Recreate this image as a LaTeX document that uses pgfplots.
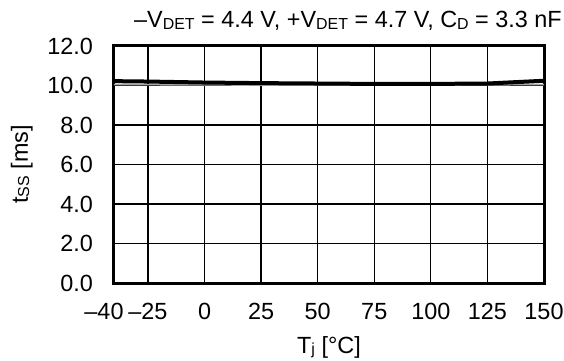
\documentclass[border=0pt]{standalone}
\usepackage{pgfplots}
\pgfplotsset{compat=1.18}
\usepackage{fontspec}
\setmainfont{Liberation Sans}
\newcommand{\sub}[1]{\raisebox{-0.1ex}{\fontsize{16}{18}\selectfont #1}}
\begin{document}
\begin{tikzpicture}
\fontsize{23.5}{27}\selectfont
\begin{axis}[
  scale only axis,
  width=430bp, height=237bp,
  xmin=-40, xmax=150, ymin=0, ymax=12,
  xtick={-40,-25,0,25,50,75,100,125,150},
  xticklabels={{\hspace*{-20bp}--40},--25,0,25,50,75,100,125,150},
  ytick={0,2,4,6,8,10,12},
  yticklabels={0.0,2.0,4.0,6.0,8.0,10.0,12.0},
  tick style={draw=none},
  grid=major,
  major grid style={black, line width=1.3bp},
  axis line style={black, line width=3bp},
  ticklabel style={font=\fontsize{23.5}{27}\selectfont},
  yticklabel style={xshift=-13bp},
  xticklabel style={yshift=-12bp},
  xlabel={T\sub{j} [\textdegree C]},
  ylabel={t\sub{SS} [ms]},
  label style={font=\fontsize{23.5}{27}\selectfont},
  xlabel style={yshift=-1bp},
  ylabel style={yshift=-1bp},
  clip=false,
]
\coordinate (sw) at (rel axis cs:0,0);
\coordinate (ne) at (rel axis cs:1,1);
\addplot[gray!70, line width=1.5bp] coordinates {
(-40,10.05) (-25,10.04) (0,10.03) (25,10.02) (50,10.02) (75,10.02) (100,10.02) (125,10.03) (150,10.05)};
\addplot[black, line width=4bp] coordinates {
(-40,10.22) (-25,10.2) (0,10.15) (25,10.12) (50,10.1) (75,10.08) (100,10.08) (125,10.1) (150,10.24)};
\node[anchor=base east, inner sep=0pt] at ([xshift=18bp,yshift=18bp]rel axis cs:1,1) {--V\sub{DET} = 4.4 V, +V\sub{DET} = 4.7 V, C\sub{D} = 3.3 nF};
\end{axis}
\pgfresetboundingbox
\path ([shift={(-114bp,-78bp)}]sw) rectangle ([shift={(20bp,46bp)}]ne);
\end{tikzpicture}
\end{document}
